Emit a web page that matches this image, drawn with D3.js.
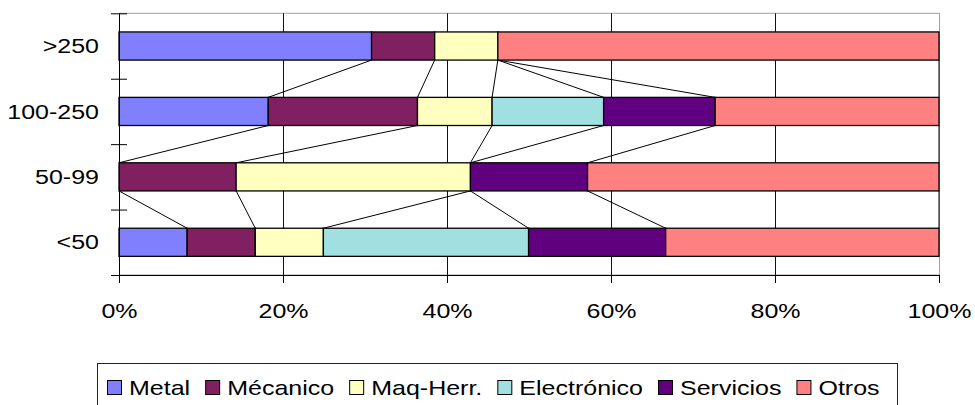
<!DOCTYPE html>
<html>
<head>
<meta charset="utf-8">
<script src="https://cdn.jsdelivr.net/npm/d3@7"></script>
<style>
  body { margin: 0; background: #fff; }
  text { font-family: "Liberation Sans", Arial, sans-serif; font-size: 20.5px; fill: #000; }
</style>
</head>
<body>
<svg id="chart" width="975" height="405"></svg>
<script>
// Company size bands, listed top to bottom
const categories = [">250", "100-250", "50-99", "<50"];
const seriesNames = ["Metal", "Mécanico", "Maq-Herr.", "Electrónico", "Servicios", "Otros"];

// Share of firms per sector (%), one entry per size band in the order above
const metal       = [30.8, 18.2,  0.0,  8.3];
const mecanico    = [ 7.7, 18.2, 14.3,  8.3];
const maqHerr     = [ 7.7,  9.1, 28.6,  8.3];
const electronico = [ 0.0, 13.6,  0.0, 25.0];
const servicios   = [ 0.0, 13.6, 14.3, 16.7];
const otros       = [53.8, 27.3, 42.9, 33.3];
const seriesValues = [metal, mecanico, maqHerr, electronico, servicios, otros];

const xTicks = [0, 0.2, 0.4, 0.6, 0.8, 1];
const colors = ["#8080FF", "#802060", "#FFFFC0", "#A0E0E0", "#600080", "#FF8080"];

const rows = categories.map((c, i) => {
  const r = { category: c };
  seriesNames.forEach((s, j) => { r[s] = seriesValues[j][i]; });
  return r;
});
const layers = d3.stack().keys(seriesNames).offset(d3.stackOffsetExpand)(rows);

const plotLeft = 119, plotRight = 939, plotTop = 13.3, plotBottom = 275;
const stretch = 1.22; // horizontal text stretch

const x = d3.scaleLinear().domain([0, 1]).range([plotLeft, plotRight]);
const y = d3.scaleBand().domain(categories).range([plotTop, plotBottom])
  .paddingInner(0.57).paddingOuter(0.285);
const yEdges = d3.scaleLinear().domain([0, categories.length]).range([plotTop, plotBottom]);

const svg = d3.select("#chart");

// Plot area frame
svg.append("rect")
  .attr("x", plotLeft + 0.5).attr("y", plotTop)
  .attr("width", plotRight - plotLeft).attr("height", plotBottom - plotTop)
  .attr("fill", "#fff").attr("stroke", "#a0a0a0").attr("stroke-width", 1);

// Vertical gridlines
svg.append("g").selectAll("line")
  .data(xTicks.filter(t => t > 0 && t < 1))
  .join("line")
  .attr("x1", d => Math.round(x(d)) + 0.5).attr("x2", d => Math.round(x(d)) + 0.5)
  .attr("y1", plotTop).attr("y2", plotBottom)
  .attr("stroke", "#111").attr("stroke-width", 1);

// Series lines joining the end of each sector between neighbouring bars
const bw = y.bandwidth();
const links = [];
layers.forEach(layer => {
  for (let i = 0; i < layer.length - 1; i++) {
    links.push({
      x1: x(layer[i][1]), y1: y(layer[i].data.category) + bw,
      x2: x(layer[i + 1][1]), y2: y(layer[i + 1].data.category)
    });
  }
});
svg.append("g").selectAll("line").data(links).join("line")
  .attr("x1", d => d.x1).attr("y1", d => d.y1)
  .attr("x2", d => d.x2).attr("y2", d => d.y2)
  .attr("stroke", "#000").attr("stroke-width", 1);

// Stacked bars
svg.append("g").selectAll("g").data(layers).join("g")
  .attr("fill", (d, i) => colors[i])
  .selectAll("rect")
  .data(d => d.filter(s => s[1] - s[0] > 0))
  .join("rect")
  .attr("x", d => x(d[0])).attr("width", d => x(d[1]) - x(d[0]))
  .attr("y", d => y(d.data.category)).attr("height", bw)
  .attr("stroke", "#000").attr("stroke-width", 1.3);

// Bottom axis
const xAxis = svg.append("g").attr("transform", `translate(0,${plotBottom})`)
  .call(d3.axisBottom(x).tickValues(xTicks).tickFormat(d3.format(".0%"))
    .tickSize(8).tickSizeOuter(0));
xAxis.select(".domain").attr("stroke", "#000");
xAxis.selectAll(".tick line").attr("stroke", "#000");
xAxis.selectAll(".tick text")
  .attr("y", 43).attr("dy", 0)
  .attr("transform", `scale(${stretch},1)`)
  .style("font-size", "20.5px").style("font-family", "'Liberation Sans', Arial, sans-serif");

// Left axis with category labels
const yAxis = svg.append("g").attr("transform", `translate(${plotLeft},0)`)
  .call(d3.axisLeft(y).tickSize(0).tickSizeOuter(0));
yAxis.select(".domain").attr("stroke", "#000");
yAxis.selectAll(".tick text")
  .attr("x", 0).attr("dy", "0.35em")
  .attr("transform", `translate(-20,0) scale(${stretch},1)`)
  .style("font-size", "20.5px").style("font-family", "'Liberation Sans', Arial, sans-serif");

// Cross tick marks on the category boundaries
const edgeAxis = svg.append("g").attr("transform", `translate(${plotLeft + 8},0)`)
  .call(d3.axisLeft(yEdges).tickValues(d3.range(categories.length + 1))
    .tickSize(16).tickFormat(""));
edgeAxis.select(".domain").remove();
edgeAxis.selectAll(".tick line").attr("stroke", "#000");

// Legend
const legend = svg.append("g");
legend.append("rect")
  .attr("x", 97.5).attr("y", 363.5).attr("width", 800).attr("height", 60)
  .attr("fill", "#fff").attr("stroke", "#222").attr("stroke-width", 1);
let cx = 107;
seriesNames.forEach((name, i) => {
  legend.append("rect")
    .attr("x", cx + 0.5).attr("y", 380.5).attr("width", 14).attr("height", 14)
    .attr("fill", colors[i]).attr("stroke", "#000").attr("stroke-width", 1);
  const t = legend.append("text")
    .attr("transform", `translate(${cx + 22},395) scale(${stretch},1)`)
    .text(name);
  const w = t.node().getComputedTextLength() * stretch;
  cx += 22 + w + 15;
});
</script>
</body>
</html>
